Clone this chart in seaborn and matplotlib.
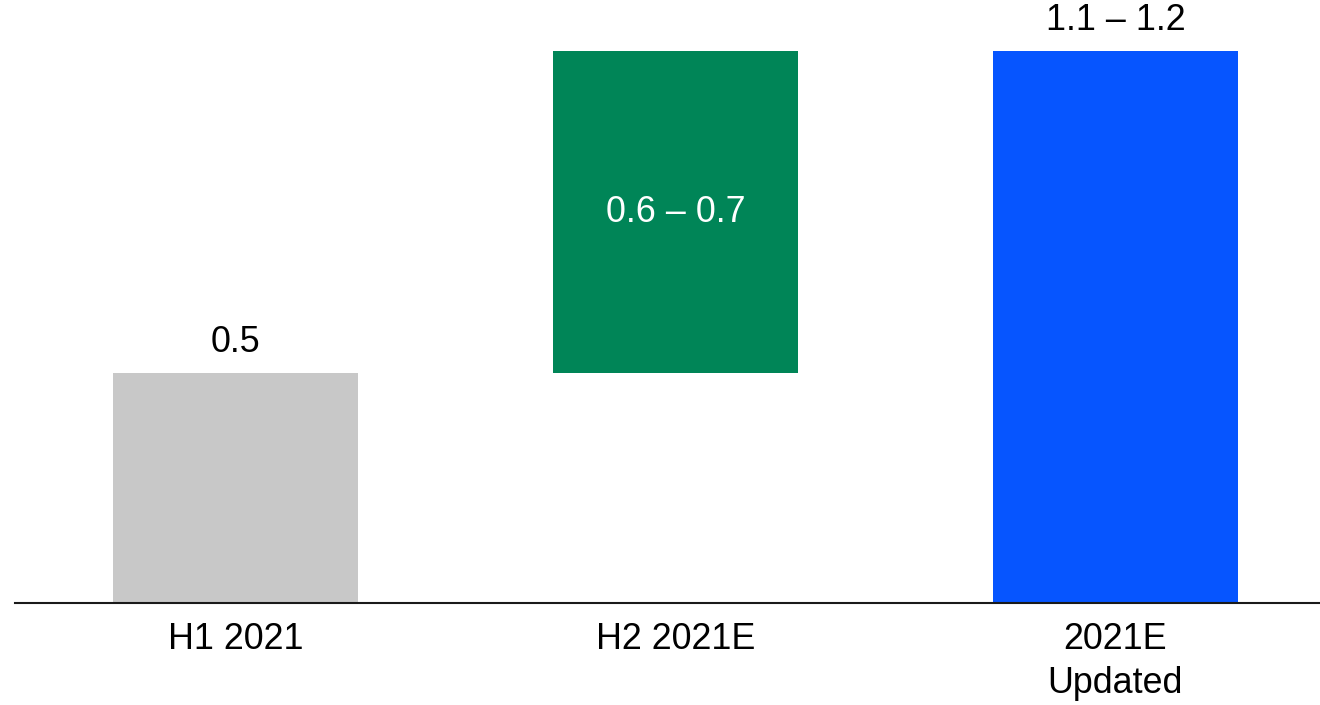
import matplotlib
matplotlib.use("Agg")
import matplotlib.pyplot as plt
import seaborn as sns
import pandas as pd

# Waterfall data: full-year outlook built from H1 actual plus H2 estimate
categories = ["H1 2021", "H2 2021E", "2021E\nUpdated"]
bar_tops = [0.5, 1.2, 1.2]
bar_bases = [0.0, 0.5, 0.0]
value_labels = ["0.5", "0.6 \u2013 0.7", "1.1 \u2013 1.2"]
bar_colors = ["#C8C8C8", "#008557", "#0655FF"]

df = pd.DataFrame({
    "category": categories,
    "height": [t - b for t, b in zip(bar_tops, bar_bases)],
    "base": bar_bases,
})

sns.set_theme(style="white")
plt.rcParams["font.family"] = ["Liberation Sans", "DejaVu Sans"]

fig = plt.figure(figsize=(13.2, 7.05), dpi=100)
ax = fig.add_axes([15 / 1320, 102 / 705, 1 - 15 / 1320, 603 / 705])

sns.barplot(data=df, x="category", y="height", bottom=df["base"].to_numpy(),
            color=bar_colors[0], width=0.557, saturation=1, ax=ax, errorbar=None)
for patch, c in zip(ax.patches, bar_colors):
    patch.set_facecolor(c)
    patch.set_edgecolor("none")

ax.set_xlim(-0.501, 2.465)
ax.set_ylim(0, 1.2 * 603 / 552)

fs = 25.8
# Labels above the total bars, inside the floating bar
for i, (top, base, lab) in enumerate(zip(bar_tops, bar_bases, value_labels)):
    if base > 0:
        ax.text(i, (top + base) / 2, lab, ha="center", va="center",
                color="white", fontsize=fs)
    else:
        ax.annotate(lab, xy=(i, top), xytext=(0, 9), textcoords="offset points",
                    ha="center", va="bottom", color="black", fontsize=fs)

ax.set_xlabel("")
ax.set_ylabel("")
ax.set_yticks([])
ax.tick_params(axis="x", length=0, pad=14, labelsize=fs, labelcolor="black")
for lbl in ax.get_xticklabels():
    lbl.set_linespacing(1.32)

for side in ["top", "right", "left"]:
    ax.spines[side].set_visible(False)
ax.spines["bottom"].set_color("#1a1a1a")
ax.spines["bottom"].set_linewidth(1.5)

fig.savefig("out.png", dpi=100)
